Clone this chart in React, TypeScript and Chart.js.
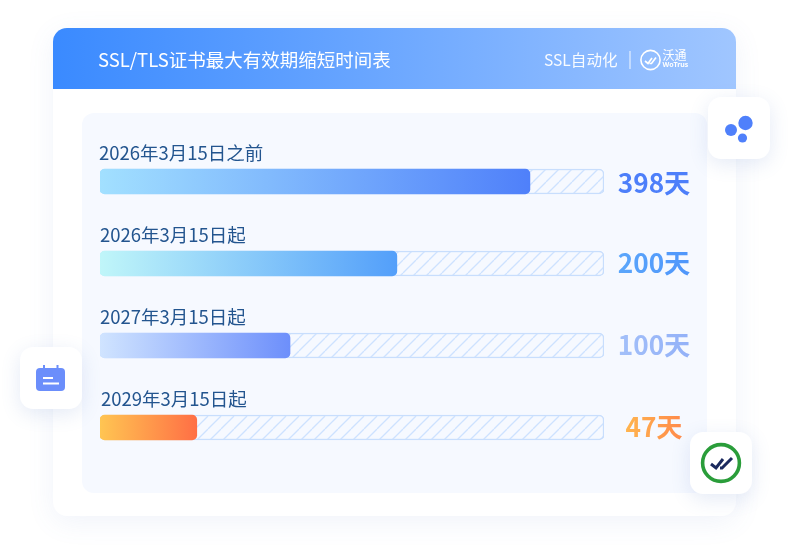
import React, { useEffect, useRef } from "react";
import { Chart, registerables } from "chart.js";

Chart.register(...registerables);

const title = "SSL/TLS证书最大有效期缩短时间表";
const brandText = "SSL自动化";
const categories = ["2026年3月15日之前", "2026年3月15日起", "2027年3月15日起", "2029年3月15日起"];
const dayLabels = ["398天", "200天", "100天", "47天"];
const fillPercent = [85.3, 58.9, 37.7, 19.2];
const trackPercent = [100, 100, 100, 100];
const gradientStart = ["#a2e0ff", "#c0f6f9", "#d0e4ff", "#ffc552"];
const gradientEnd = ["#4f80fa", "#539ffa", "#6d8ffb", "#ff6f45"];
const dayStart = ["#4d7ffa", "#5ba6fb", "#a3c0f9", "#ffb54f"];
const dayEnd = ["#4d7ffa", "#4f96fb", "#93b1f8", "#ff8a4a"];

const FONT = '"Noto Sans CJK SC", "Noto Sans", sans-serif';

function rr(ctx: CanvasRenderingContext2D, x: number, y: number, w: number, h: number, r: number | number[]) {
  ctx.beginPath();
  ctx.roundRect(x, y, w, h, r);
}

function tile(ctx: CanvasRenderingContext2D, x: number, y: number) {
  ctx.save();
  ctx.shadowColor = "rgba(90,125,200,0.16)";
  ctx.shadowBlur = 20;
  ctx.shadowOffsetY = 5;
  ctx.fillStyle = "#ffffff";
  rr(ctx, x, y, 62, 62, 13);
  ctx.fill();
  ctx.restore();
}

const decorPlugin = {
  id: "decor",
  beforeDraw(chart: any) {
    const ctx: CanvasRenderingContext2D = chart.ctx;
    ctx.save();
    ctx.save();
    ctx.shadowColor = "rgba(90,125,200,0.09)";
    ctx.shadowBlur = 28;
    ctx.shadowOffsetY = 6;
    ctx.fillStyle = "#ffffff";
    rr(ctx, 53, 28, 683, 488, 14);
    ctx.fill();
    ctx.restore();
    const g = ctx.createLinearGradient(53, 0, 736, 0);
    g.addColorStop(0, "#3a8aff");
    g.addColorStop(1, "#a0c6ff");
    ctx.fillStyle = g;
    rr(ctx, 53, 28, 683, 61, [14, 14, 0, 0]);
    ctx.fill();
    ctx.fillStyle = "#f6f9ff";
    rr(ctx, 82, 113, 625, 380, 12);
    ctx.fill();
    ctx.restore();
  },
  afterDraw(chart: any) {
    const ctx: CanvasRenderingContext2D = chart.ctx;
    const yScale = chart.scales.y;
    ctx.save();
    ctx.textBaseline = "middle";
    ctx.fillStyle = "#ffffff";
    ctx.font = `400 18.5px ${FONT}`;
    ctx.textAlign = "left";
    ctx.fillText(title, 98, 60);
    ctx.fillStyle = "rgba(255,255,255,0.95)";
    ctx.font = `400 15.6px ${FONT}`;
    ctx.fillText(brandText, 544, 60);
    ctx.fillStyle = "rgba(255,255,255,0.9)";
    ctx.fillRect(629.5, 51, 1, 18);
    ctx.strokeStyle = "#ffffff";
    ctx.lineWidth = 1.6;
    ctx.beginPath();
    ctx.arc(650.5, 60, 9.6, 0, Math.PI * 2);
    ctx.stroke();
    ctx.lineWidth = 1.7;
    ctx.beginPath();
    ctx.moveTo(645, 61);
    ctx.lineTo(648, 63.5);
    ctx.lineTo(652, 58);
    ctx.moveTo(649.5, 63.5);
    ctx.lineTo(651.5, 63.5);
    ctx.lineTo(656, 57.5);
    ctx.stroke();
    ctx.fillStyle = "#ffffff";
    ctx.font = `400 12px ${FONT}`;
    ctx.fillText("沃通", 662.5, 55);
    ctx.font = `700 7px "Noto Sans", sans-serif`;
    ctx.fillText("WoTrus", 662.5, 65);
    categories.forEach((label, i) => {
      const cy = yScale.getPixelForValue(i);
      ctx.textAlign = "left";
      ctx.fillStyle = "#23558f";
      ctx.font = `400 18.5px ${FONT}`;
      ctx.fillText(label, i === 0 ? 99 : i === 3 ? 101 : 100, cy - 28.5);
      ctx.font = `700 26.2px ${FONT}`;
      const w = ctx.measureText(dayLabels[i]).width;
      const g = ctx.createLinearGradient(654 - w / 2, 0, 654 + w / 2, 0);
      g.addColorStop(0, dayStart[i]);
      g.addColorStop(1, dayEnd[i]);
      ctx.fillStyle = g;
      ctx.textAlign = "center";
      ctx.fillText(dayLabels[i], 654, i === 0 ? cy + 1.5 : cy);
    });
    tile(ctx, 708, 97);
    ctx.fillStyle = "#4f80fb";
    [[745.5, 123, 7.2], [731, 130, 6], [742.5, 138, 4.6]].forEach(([x, y, r]) => {
      ctx.beginPath();
      ctx.arc(x, y, r, 0, Math.PI * 2);
      ctx.fill();
    });
    tile(ctx, 20, 347);
    ctx.fillStyle = "#6b8efb";
    ctx.fillRect(43, 365, 2, 5);
    ctx.fillRect(56.5, 365, 2, 5);
    rr(ctx, 36, 368, 29, 23, 4);
    ctx.fill();
    ctx.fillStyle = "#ffffff";
    ctx.fillRect(43, 377, 10, 2);
    ctx.fillRect(43, 382.5, 16, 2);
    tile(ctx, 690, 432);
    ctx.strokeStyle = "#2a9d3a";
    ctx.lineWidth = 3.6;
    ctx.beginPath();
    ctx.arc(721, 463, 18.4, 0, Math.PI * 2);
    ctx.stroke();
    ctx.strokeStyle = "#1b2a5e";
    ctx.lineWidth = 3;
    ctx.beginPath();
    ctx.moveTo(711, 464);
    ctx.lineTo(716, 468);
    ctx.lineTo(723, 459);
    ctx.moveTo(720, 468);
    ctx.lineTo(722, 468);
    ctx.lineTo(732, 458);
    ctx.stroke();
    ctx.restore();
  },
};

function hatchPattern(ctx: CanvasRenderingContext2D) {
  const c = document.createElement("canvas");
  c.width = 13;
  c.height = 13;
  const p = c.getContext("2d")!;
  p.fillStyle = "#f6f9ff";
  p.fillRect(0, 0, 13, 13);
  p.strokeStyle = "#cde2ff";
  p.lineWidth = 1.3;
  for (const o of [-13, 0, 13]) {
    p.beginPath();
    p.moveTo(o, 13);
    p.lineTo(o + 13, 0);
    p.stroke();
  }
  return ctx.createPattern(c, "repeat")!;
}

export default function App() {
  const ref = useRef<HTMLCanvasElement>(null);
  useEffect(() => {
    const canvas = ref.current!;
    const ctx = canvas.getContext("2d")!;
    const hatch = hatchPattern(ctx);
    const chart = new Chart(ctx, {
      type: "bar",
      data: {
        labels: categories,
        datasets: [
          {
            label: "fill",
            data: fillPercent,
            order: 1,
            barThickness: 25,
            borderRadius: 5,
            borderSkipped: false,
            backgroundColor: (c: any) => {
              const x = c.chart.scales.x;
              const i = c.dataIndex;
              if (!x || i === undefined) return gradientEnd[0];
              const x0 = x.getPixelForValue(0);
              const x1 = x.getPixelForValue(fillPercent[i]);
              if (!Number.isFinite(x0) || !Number.isFinite(x1)) return gradientEnd[i];
              const g = ctx.createLinearGradient(x0, 0, x1, 0);
              g.addColorStop(0, gradientStart[i]);
              g.addColorStop(1, gradientEnd[i]);
              return g;
            },
          },
          {
            label: "track",
            data: trackPercent,
            order: 2,
            barThickness: 25,
            borderRadius: 5,
            borderSkipped: false,
            borderWidth: 1.5,
            borderColor: "#c8defd",
            backgroundColor: hatch,
          },
        ],
      } as any,
      options: {
        indexAxis: "y",
        animation: false,
        responsive: false,
        layout: { padding: { left: 100, right: 186, top: 140.5, bottom: 86.5 } },
        plugins: { legend: { display: false }, tooltip: { enabled: false } },
        datasets: { bar: { grouped: false } },
        scales: {
          x: { display: false, min: 0, max: 100 },
          y: { display: false },
        },
      } as any,
      plugins: [decorPlugin],
    });
    return () => chart.destroy();
  }, []);
  return (
    <div style={{ position: "absolute", left: 0, top: 0, width: 790, height: 555, background: "#ffffff" }}>
      <canvas ref={ref} width={790} height={555} style={{ display: "block" }} />
    </div>
  );
}
